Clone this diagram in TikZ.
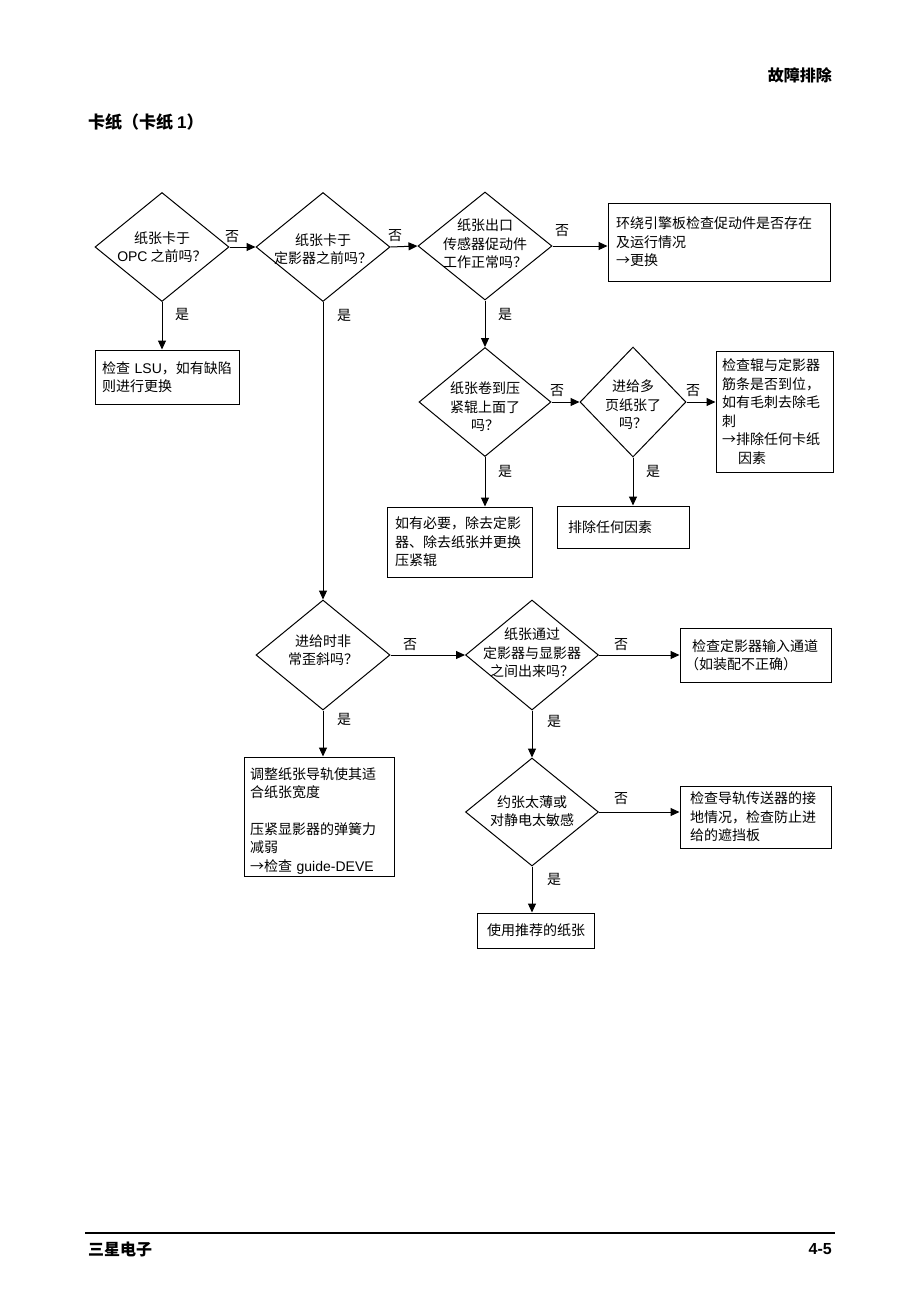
\documentclass[tikz,border=0pt]{standalone}
\usepackage{fontspec}
\setmainfont{Noto Sans CJK SC}
\newfontfamily\latfont{Liberation Sans}
\usetikzlibrary{shapes.geometric,arrows.meta}
\begin{document}
\begin{tikzpicture}[x=1pt,y=-1pt,
  every node/.style={font=\fontsize{14pt}{18.5pt}\selectfont},
  dia/.style={draw, diamond, inner sep=0pt, line width=1pt},
  dtext/.style={align=center, inner sep=0pt},
  box/.style={draw, rectangle, align=left, inner xsep=8pt, inner ysep=0pt, line width=1pt},
  arr/.style={line width=1pt, -{Triangle[length=9pt,width=8pt]}},
  lbl/.style={inner sep=0pt}
]
\useasboundingbox (0,0) rectangle (920,1302);
\fill[white] (0,0) rectangle (920,1302);

% header / footer
\node[anchor=east, inner sep=0pt, font=\fontsize{16pt}{18pt}\selectfont\bfseries] (hdr) at (832,75) {故障排除};
\node[anchor=west, inner sep=0pt, font=\fontsize{17pt}{19pt}\selectfont\bfseries] (ttl) at (88,122) {卡纸（卡纸 {\latfont 1}）};
\coordinate (fl) at (85,1233);
\coordinate (fr) at (835,1233);
\draw[line width=1.4pt] (fl) -- (fr);
\node[anchor=west, inner sep=0pt, font=\fontsize{16pt}{18pt}\selectfont\bfseries] (ftl) at (88,1249) {三星电子};
\node[anchor=east, inner sep=0pt, font=\fontsize{16pt}{18pt}\selectfont\bfseries\latfont] (ftr) at (832,1249) {4-5};

% row 1
\node[dia, minimum width=134pt, minimum height=109pt] (d1) at (162,247) {};
\node[dtext] (t1) at (162,247) {纸张卡于\\{\latfont OPC} 之前吗？};
\node[dia, minimum width=134pt, minimum height=109pt] (d2) at (323,247) {};
\node[dtext] (t2) at (323,249) {纸张卡于\\定影器之前吗？};
\node[dia, minimum width=134pt, minimum height=108pt] (d3) at (485,246) {};
\node[dtext] (t3) at (485,244) {纸张出口\\传感器促动件\\工作正常吗？};
\node[box, text width=206pt, minimum width=222pt, minimum height=78pt] (b1) at (719,242) {环绕引擎板检查促动件是否存在\\及运行情况\\→更换};

\node[box, inner xsep=7pt, text width=130pt, minimum width=144pt, minimum height=54pt] (b2) at (167,377) {检查~{\latfont LSU}，如有缺陷\\则进行更换};

% row 2
\node[dia, minimum width=132pt, minimum height=109pt] (d4) at (485,402) {};
\node[dtext] (t4) at (485,407) {纸张卷到压\\紧辊上面了\\吗？};
\node[dia, minimum width=106pt, minimum height=110pt] (d5) at (633,402) {};
\node[dtext] (t5) at (633,405) {进给多\\页纸张了\\吗？};
\node[box, inner xsep=6pt, text width=105pt, minimum width=117pt, minimum height=121pt] (b3) at (774.5,411.5) {检查辊与定影器\\筋条是否到位，\\如有毛刺去除毛\\刺\\→排除任何卡纸\\\hspace*{16pt}因素};
\node[box, text width=129pt, minimum width=145pt, minimum height=70pt] (b4) at (459.5,542) {如有必要，除去定影\\器、除去纸张并更换\\压紧辊};
\node[box, inner xsep=11pt, text width=110pt, minimum width=132pt, minimum height=42pt] (b5) at (623,527) {排除任何因素};

% row 3
\node[dia, minimum width=134pt, minimum height=110pt] (d6) at (323,655) {};
\node[dtext] (t6) at (323,650) {进给时非\\常歪斜吗？};
\node[dia, minimum width=133pt, minimum height=110pt] (d7) at (532,655) {};
\node[dtext] (t7) at (532,653) {纸张通过\\定影器与显影器\\之间出来吗？};
\node[box, inner xsep=5pt, text width=141pt, minimum width=151pt, minimum height=54pt] (b6) at (755.5,655) {\hspace*{7pt}检查定影器输入通道\\（如装配不正确）};
\node[box, inner xsep=6pt, text width=138pt, minimum width=150pt, minimum height=119pt] (b7) at (319,816.5) {\rule{0pt}{20pt}调整纸张导轨使其适\\合纸张宽度\\[18pt]压紧显影器的弹簧力\\减弱\\→检查~{\latfont guide-DEVE}};

% row 4
\node[dia, minimum width=133pt, minimum height=108pt] (d8) at (532,812) {};
\node[dtext] (t8) at (532,811) {约张太薄或\\对静电太敏感};
\node[box, inner xsep=10pt, text width=131pt, minimum width=151pt, minimum height=62pt] (b8) at (755.5,817) {检查导轨传送器的接\\地情况，检查防止进\\给的遮挡板};
\node[box, inner xsep=10pt, text width=97pt, minimum width=117pt, minimum height=35pt] (b9) at (535.5,930.5) {使用推荐的纸张};

% connectors
\draw[arr] (d1.south) -- (d1.south |- b2.north);
\draw[arr] (d1.east) -- (d2.west);
\draw[arr] (d2.east) -- (d3.west);
\draw[arr] (d3.east) -- (d3.east -| b1.west);
\draw[arr] (d3.south) -- (d4.north);
\draw[arr] (d2.south) -- (d6.north);
\draw[arr] (d4.east) -- (d5.west);
\draw[arr] (d4.south) -- (d4.south |- b4.north);
\draw[arr] (d5.east) -- (d5.east -| b3.west);
\draw[arr] (d5.south) -- (d5.south |- b5.north);
\draw[arr] (d6.east) -- (d7.west);
\draw[arr] (d7.east) -- (d7.east -| b6.west);
\draw[arr] (d6.south) -- (d6.south |- b7.north);
\draw[arr] (d7.south) -- (d8.north);
\draw[arr] (d8.east) -- (d8.east -| b8.west);
\draw[arr] (d8.south) -- (d8.south |- b9.north);

% labels
\node[lbl] (n1) at (232,237) {否};
\node[lbl] (n2) at (395,236) {否};
\node[lbl] (n3) at (562,231) {否};
\node[lbl] (n4) at (557,391) {否};
\node[lbl] (n5) at (693,391) {否};
\node[lbl] (n6) at (410,645) {否};
\node[lbl] (n7) at (621,645) {否};
\node[lbl] (n8) at (621,799) {否};
\node[lbl] (y1) at (182,314) {是};
\node[lbl] (y2) at (344,315) {是};
\node[lbl] (y3) at (505,314) {是};
\node[lbl] (y4) at (505,471) {是};
\node[lbl] (y5) at (653,471) {是};
\node[lbl] (y6) at (344,719) {是};
\node[lbl] (y7) at (554,721) {是};
\node[lbl] (y8) at (554,879) {是};
\end{tikzpicture}
\end{document}
